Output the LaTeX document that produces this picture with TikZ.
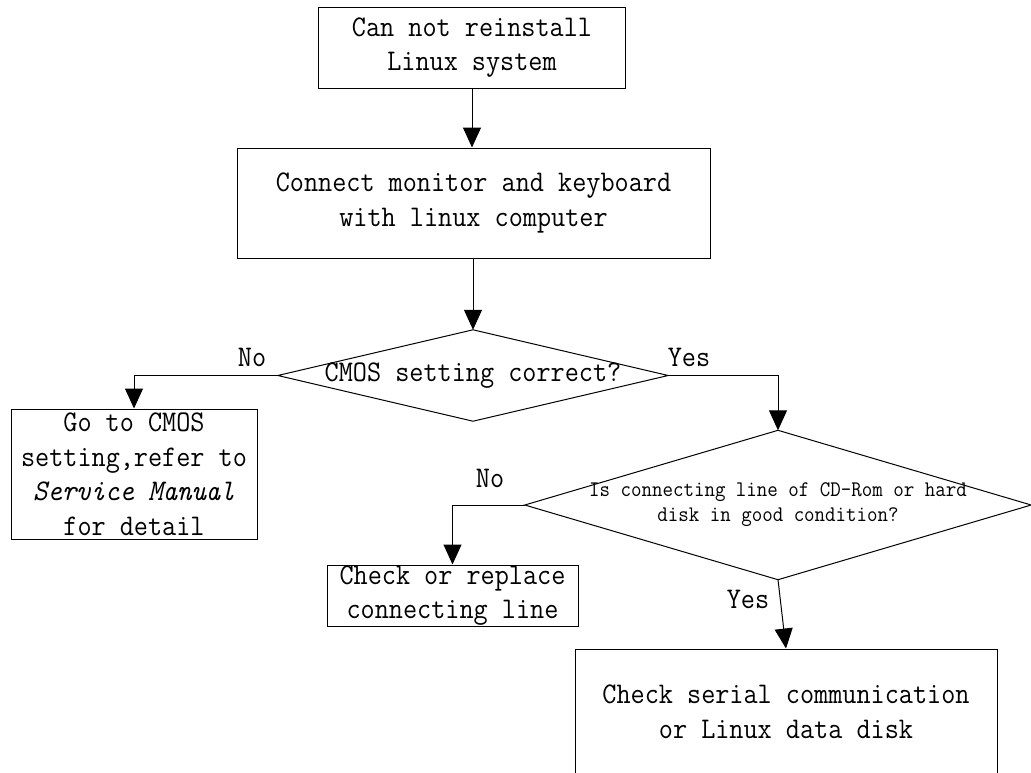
\documentclass[tikz,border=0pt]{standalone}
\usepackage{fontspec}
\setmainfont{Latin Modern Mono}[FakeStretch=0.914]
\usetikzlibrary{arrows.meta}
\begin{document}
\begin{tikzpicture}[x=1pt,y=-1pt,
  box/.style={draw, line width=1pt, rectangle, inner sep=0pt, align=center, font=\fontsize{30}{34.5}\selectfont},
  dec/.style={rectangle, inner sep=0pt, align=center},
  lbl/.style={inner sep=0pt, font=\fontsize{30}{34}\selectfont},
  link/.style={line width=1pt, -{Triangle[width=18pt,length=20pt]}},
  plain/.style={line width=1pt}]
\useasboundingbox (0,0) rectangle (1031,772);

\node[box, minimum width=307pt, minimum height=81pt] (b1) at (472,47.5) {Can not reinstall\\Linux system};
\node[box, minimum width=473pt, minimum height=110pt] (b2) at (473.5,203) {Connect monitor and keyboard\\with linux computer};
\node[dec, minimum width=390pt, minimum height=91pt, font=\fontsize{30}{34}\selectfont] (d1) at (473,375.5) {CMOS setting correct?};
\draw[plain] (d1.north) -- (d1.east) -- (d1.south) -- (d1.west) -- cycle;
\node[box, minimum width=246pt, minimum height=130pt] (b3) at (134,474) {Go to CMOS\\setting,refer to\\\textit{Service Manual}\\for detail};
\node[dec, minimum width=506pt, minimum height=149pt, font=\fontsize{22.3}{25}\selectfont] (d2) at (778,505) {Is connecting line of CD-Rom or hard\\disk in good condition?};
\draw[plain] (d2.north) -- (d2.east) -- (d2.south) -- (d2.west) -- cycle;
\node[box, minimum width=251pt, minimum height=61pt] (b4) at (452.5,595.5) {Check or replace\\connecting line};
\node[box, minimum width=422pt, minimum height=125pt] (b5) at (786,711.5) {Check serial communication\\or Linux data disk};

\node[lbl] (no1) at (252,357) {No};
\node[lbl] (yes1) at (689,357) {Yes};
\node[lbl] (no2) at (490,478) {No};
\node[lbl] (yes2) at (748,599) {Yes};

\draw[link] (b1.south) -- (b1.south |- b2.north);
\draw[link] (b2.south -| d1.north) -- (d1.north);
\draw[link] (d1.west) -| (b3.north);
\draw[link] (d1.east) -| (d2.north);
\draw[link] (d2.west) -| (b4.north);
\draw[link] (d2.south) -- (b5.north);
\end{tikzpicture}
\end{document}
